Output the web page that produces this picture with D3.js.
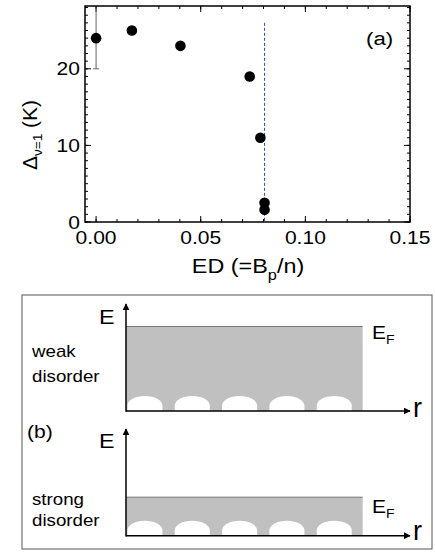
<!DOCTYPE html>
<html>
<head>
<meta charset="utf-8">
<script src="https://cdn.jsdelivr.net/npm/d3@7"></script>
<style>
  body { margin: 0; background: #fff; }
  svg text { font-family: "Liberation Sans", Arial, Helvetica, sans-serif; }
</style>
</head>
<body>
<div id="chart"></div>
<script>
// panel (a) data
const edValues = [0.0, 0.0171, 0.0403, 0.0734, 0.0785, 0.0805, 0.0805];
const gapValues = [24.0, 25.0, 23.0, 19.0, 11.0, 2.5, 1.6];
const gapErrLow = [4, 0, 0, 0, 0, 0, 0];
const gapErrHigh = [4, 0, 0, 0, 0, 0, 0];
const xTicks = [0, 0.05, 0.1, 0.15];
const yTicks = [0, 10, 20];
const criticalED = 0.0805;
const criticalTop = 26;

// panel (b) schematic
const bumpCenters = [0.4, 1.4, 2.4, 3.4, 4.4];
const bumpHalfWidth = 0.37;
const bumpHeight = 0.14;
const seaEnd = 5.0;
const fermiLevels = [0.79, 0.36]; // weak, strong
const diagramLabels = [["weak", "disorder"], ["strong", "disorder"]];

const W = 435, H = 552;
const stretch = 1.17; // the original lettering is a bit wider than Liberation Sans
const svg = d3.select("#chart").append("svg").attr("width", W).attr("height", H);

// text helper: widened glyphs, anchored at (x, y)
function label(parent, x, y, size, anchor) {
  return parent.append("text")
    .attr("transform", `translate(${x},${y}) scale(${stretch},1)`)
    .attr("font-size", size)
    .attr("text-anchor", anchor || "start");
}

// ---------- panel (a) ----------
const plot = { left: 85, right: 410, top: 6, bottom: 222 };
const x = d3.scaleLinear().domain([-0.0053, 0.15]).range([plot.left, plot.right]);
const y = d3.scaleLinear().domain([0, 28.2]).range([plot.bottom, plot.top]);

const ga = svg.append("g");

// inward ticks on all four sides
const minorX = d3.range(0, 0.1501, 0.01);
const minorY = d3.range(0, 28.01, 1);
function tickLines(vals, isX, len) {
  vals.forEach((v) => {
    if (isX) {
      const px = x(v);
      ga.append("line").attr("x1", px).attr("x2", px).attr("y1", plot.bottom).attr("y2", plot.bottom - len);
      ga.append("line").attr("x1", px).attr("x2", px).attr("y1", plot.top).attr("y2", plot.top + len);
    } else {
      const py = y(v);
      ga.append("line").attr("y1", py).attr("y2", py).attr("x1", plot.left).attr("x2", plot.left + len);
      ga.append("line").attr("y1", py).attr("y2", py).attr("x1", plot.right).attr("x2", plot.right - len);
    }
  });
}
tickLines(minorX, true, 3);
tickLines(minorY, false, 3);
tickLines(xTicks, true, 6);
tickLines(yTicks, false, 6);
ga.selectAll("line").attr("stroke", "#000").attr("stroke-width", 1);

ga.append("rect")
  .attr("x", plot.left).attr("y", plot.top)
  .attr("width", plot.right - plot.left).attr("height", plot.bottom - plot.top)
  .attr("fill", "none").attr("stroke", "#000").attr("stroke-width", 1.5);

// tick labels
xTicks.forEach((d) => {
  label(ga, x(d), 244, 18, "middle").text(d3.format(".2f")(d));
});
yTicks.forEach((d) => {
  label(ga, 80, y(d) + 6.5, 18, "end").text(d);
});

// dashed critical line
ga.append("line")
  .attr("x1", x(criticalED)).attr("x2", x(criticalED))
  .attr("y1", y(criticalTop)).attr("y2", plot.bottom)
  .attr("stroke", "#2244ee").attr("stroke-width", 1).attr("stroke-dasharray", "3,2");

// error bars
const clipTop = y.domain()[1];
edValues.forEach((d, i) => {
  if (!gapErrLow[i] && !gapErrHigh[i]) return;
  const lo = gapValues[i] - gapErrLow[i];
  const hi = Math.min(gapValues[i] + gapErrHigh[i], clipTop);
  ga.append("line").attr("x1", x(d)).attr("x2", x(d)).attr("y1", y(lo)).attr("y2", y(hi))
    .attr("stroke", "#666").attr("stroke-width", 1);
  ga.append("line").attr("x1", x(d) - 3).attr("x2", x(d) + 3).attr("y1", y(lo)).attr("y2", y(lo))
    .attr("stroke", "#666").attr("stroke-width", 1);
});

// points
ga.selectAll(".pt").data(edValues).join("circle")
  .attr("cx", (d) => x(d)).attr("cy", (d, i) => y(gapValues[i]))
  .attr("r", 5.3).attr("fill", "#000");

// axis titles
const xt = label(ga, 248, 273, 20, "middle");
xt.append("tspan").text("ED (=B");
xt.append("tspan").attr("font-size", 14).attr("dy", 7).text("p");
xt.append("tspan").attr("dy", -7).text("/n)");

const yt = ga.append("text").attr("transform", "translate(37,135) rotate(-90) scale(1.05,1)")
  .attr("text-anchor", "middle").attr("font-size", 20);
yt.append("tspan").text("Δ");
yt.append("tspan").attr("font-size", 13).attr("dy", 5).text("ν=1");
yt.append("tspan").attr("dy", -5).text(" (K)");

label(ga, 366, 45, 19).text("(a)");

// ---------- panel (b) ----------
svg.append("rect").attr("x", 22).attr("y", 295).attr("width", 410).attr("height", 254)
  .attr("fill", "none").attr("stroke", "#555").attr("stroke-width", 1);

svg.append("defs").append("marker")
  .attr("id", "arr").attr("viewBox", "0 0 10 10").attr("refX", 9).attr("refY", 5)
  .attr("markerWidth", 7).attr("markerHeight", 7).attr("markerUnits", "userSpaceOnUse")
  .attr("orient", "auto")
  .append("path").attr("d", "M0,0 L10,5 L0,10 Z").attr("fill", "#000");

const r = d3.scaleLinear().domain([0, 6]).range([126, 410]);
const diagrams = [
  { base: 411, top: 304, lab: [357, 382], eBase: 324, efBase: 339, rBase: 417 },
  { base: 535.7, top: 429, lab: [505, 526], eBase: 448, efBase: 513, rBase: 540 },
];

diagrams.forEach((dg, k) => {
  const e = d3.scaleLinear().domain([0, 1]).range([dg.base, dg.base - 107]);
  const g = svg.append("g");

  // electron sea
  g.append("rect").attr("x", r(0)).attr("y", e(fermiLevels[k]))
    .attr("width", r(seaEnd) - r(0)).attr("height", e(0) - e(fermiLevels[k]))
    .attr("fill", "#c0c0c0");
  g.append("line").attr("x1", r(0)).attr("x2", r(seaEnd))
    .attr("y1", e(fermiLevels[k])).attr("y2", e(fermiLevels[k]))
    .attr("stroke", "#777").attr("stroke-width", 1);

  // potential bumps (islands)
  g.selectAll(".bump").data(bumpCenters).join("path")
    .attr("d", (c) => {
      const x0 = r(c - bumpHalfWidth), x1 = r(c + bumpHalfWidth);
      const rx = (x1 - x0) / 2, ry = e(0) - e(bumpHeight);
      return `M${x0},${e(0)} L${x0},${e(0) - ry * 0.35} A${rx},${ry * 0.65} 0 0 1 ${x1},${e(0) - ry * 0.35} L${x1},${e(0)} Z`;
    })
    .attr("fill", "#fff");

  // axes
  g.append("line").attr("x1", r(0)).attr("x2", r(0)).attr("y1", e(0) + 0.75).attr("y2", dg.top)
    .attr("stroke", "#000").attr("stroke-width", 1.5).attr("marker-end", "url(#arr)");
  g.append("line").attr("x1", r(0)).attr("x2", r(6)).attr("y1", e(0)).attr("y2", e(0))
    .attr("stroke", "#000").attr("stroke-width", 1.5).attr("marker-end", "url(#arr)");

  label(g, 99, dg.eBase, 20).text("E");
  g.append("text").attr("x", 413).attr("y", dg.rBase).attr("font-size", 27).text("r");
  const ef = label(g, 372, dg.efBase, 18);
  ef.append("tspan").text("E");
  ef.append("tspan").attr("font-size", 12).attr("dy", 5).text("F");

  diagramLabels[k].forEach((t, j) => {
    label(g, 32, dg.lab[j], 16).text(t);
  });
});

label(svg, 27, 438, 18).text("(b)");
</script>
</body>
</html>
